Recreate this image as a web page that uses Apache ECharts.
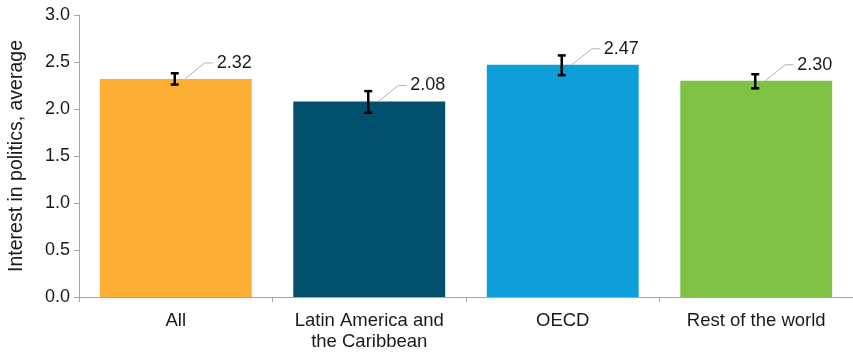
<!DOCTYPE html>
<html>
<head>
<meta charset="utf-8">
<script src="https://cdn.jsdelivr.net/npm/echarts@6/dist/echarts.min.js"></script>
<style>
html,body{margin:0;padding:0;background:#fff;}
#c{width:853px;height:355px;}
</style>
</head>
<body>
<div id="c"></div>
<script>
const categories = ['All', 'Latin America and\nthe Caribbean', 'OECD', 'Rest of the world'];
const values = [2.32, 2.08, 2.47, 2.30];
const errLow = [2.26, 1.96, 2.36, 2.22];
const errHigh = [2.38, 2.19, 2.57, 2.37];
const barColors = ['#FBAE33', '#01506E', '#0E9FD9', '#7DC243'];
const yTicks = { min: 0, max: 3, interval: 0.5 };

const FONT = '"Liberation Sans", Arial, sans-serif';
const chart = echarts.init(document.getElementById('c'), null, { renderer: 'canvas' });

const errData = values.map((v, i) => [i, v, errLow[i], errHigh[i]]);

chart.setOption({
  animation: false,
  grid: { left: 79, right: 0, top: 15, bottom: 58, containLabel: false, outerBoundsMode: 'none' },
  xAxis: {
    type: 'category',
    data: categories,
    axisLine: { lineStyle: { color: '#a6a6a6', width: 1 } },
    axisTick: { show: true, interval: 0, length: 5, lineStyle: { color: '#a6a6a6' } },
    axisLabel: { interval: 0, hideOverlap: false, color: '#1a1a1a', fontFamily: FONT, fontSize: 18.5, margin: 13, lineHeight: 21 }
  },
  yAxis: {
    type: 'value',
    min: yTicks.min, max: yTicks.max, interval: yTicks.interval,
    name: 'Interest in politics, average',
    nameLocation: 'middle',
    nameGap: 52,
    nameTextStyle: { color: '#1a1a1a', fontFamily: FONT, fontSize: 19.5 },
    axisLine: { show: true, lineStyle: { color: '#a6a6a6', width: 1 } },
    axisTick: { show: true, length: 5, lineStyle: { color: '#a6a6a6' } },
    splitLine: { show: false },
    axisLabel: { color: '#1a1a1a', fontFamily: FONT, fontSize: 18, margin: 9,
      formatter: v => v.toFixed(1) }
  },
  series: [
    {
      type: 'bar',
      data: values.map((v, i) => ({ value: v, itemStyle: { color: barColors[i] } })),
      barWidth: '78.5%',
      silent: true
    },
    {
      type: 'custom',
      data: errData,
      z: 10,
      silent: true,
      renderItem: function (params, api) {
        const i = api.value(0);
        const pv = api.coord([i, api.value(1)]);
        const pl = api.coord([i, api.value(2)]);
        const ph = api.coord([i, api.value(3)]);
        const x = pv[0] - 1;
        const cap = 4;
        const ly = pv[1] - 16;
        return {
          type: 'group',
          children: [
            { type: 'line', shape: { x1: x, y1: pl[1], x2: x, y2: ph[1] }, style: { stroke: '#000', lineWidth: 2.5 } },
            { type: 'line', shape: { x1: x - cap, y1: pl[1], x2: x + cap, y2: pl[1] }, style: { stroke: '#000', lineWidth: 2.5 } },
            { type: 'line', shape: { x1: x - cap, y1: ph[1], x2: x + cap, y2: ph[1] }, style: { stroke: '#000', lineWidth: 2.5 } },
            { type: 'polyline', shape: { points: [[x + 10, pv[1]], [x + 30, ly], [x + 38, ly]] }, style: { stroke: '#b0b0b0', lineWidth: 1, fill: null } },
            { type: 'text', x: x + 42, y: ly, style: { text: api.value(1).toFixed(2), fill: '#1a1a1a', font: '18px ' + FONT, textAlign: 'left', textVerticalAlign: 'middle' } }
          ]
        };
      }
    }
  ]
});
</script>
</body>
</html>
